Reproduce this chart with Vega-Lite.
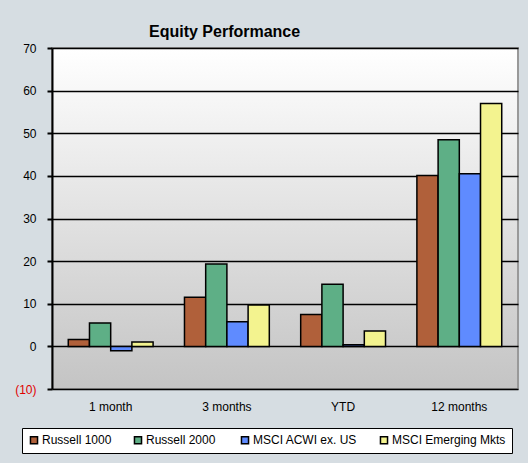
{
  "$schema": "https://vega.github.io/schema/vega-lite/v6.json",
  "width": 466,
  "height": 341,
  "autosize": {"type": "none"},
  "padding": {"left": 52, "top": 48, "right": 10, "bottom": 74},
  "background": "#D6DDE2",
  "title": {"text": "Equity Performance", "anchor": "start", "frame": "group", "dx": 97, "offset": 2, "fontSize": 16, "fontWeight": "bold", "font": "Liberation Sans", "color": "#000000"},
  "data": {"values": [
    {"period": "1 month", "index": "Russell 1000", "value": 1.6},
    {"period": "1 month", "index": "Russell  2000", "value": 5.5},
    {"period": "1 month", "index": "MSCI ACWI ex. US", "value": -1.0},
    {"period": "1 month", "index": "MSCI Emerging Mkts", "value": 1.0},
    {"period": "3 months", "index": "Russell 1000", "value": 11.5},
    {"period": "3 months", "index": "Russell  2000", "value": 19.3},
    {"period": "3 months", "index": "MSCI ACWI ex. US", "value": 5.8},
    {"period": "3 months", "index": "MSCI Emerging Mkts", "value": 9.7},
    {"period": "YTD", "index": "Russell 1000", "value": 7.5},
    {"period": "YTD", "index": "Russell  2000", "value": 14.6},
    {"period": "YTD", "index": "MSCI ACWI ex. US", "value": 0.4},
    {"period": "YTD", "index": "MSCI Emerging Mkts", "value": 3.6},
    {"period": "12 months", "index": "Russell 1000", "value": 40.1},
    {"period": "12 months", "index": "Russell  2000", "value": 48.5},
    {"period": "12 months", "index": "MSCI ACWI ex. US", "value": 40.5},
    {"period": "12 months", "index": "MSCI Emerging Mkts", "value": 57.0}
  ]},
  "mark": {"type": "bar", "stroke": "#000000", "strokeWidth": 1.5, "opacity": 1},
  "encoding": {
    "x": {"field": "period", "type": "nominal", "sort": ["1 month", "3 months", "YTD", "12 months"],
      "scale": {"paddingInner": 0.27, "paddingOuter": 0.14},
      "axis": {"title": null, "labelAngle": 0, "ticks": false, "domain": false, "labelPadding": 12, "labelFontSize": 12, "labelFont": "Liberation Sans", "labelColor": "#000000"}},
    "xOffset": {"field": "index", "sort": ["Russell 1000", "Russell  2000", "MSCI ACWI ex. US", "MSCI Emerging Mkts"]},
    "y": {"field": "value", "type": "quantitative",
      "scale": {"domain": [-10, 70], "nice": false},
      "axis": {"title": null, "values": [-10, 0, 10, 20, 30, 40, 50, 60, 70], "grid": true, "gridColor": "#000000", "gridWidth": 1.5,
        "domainColor": "#000000", "domainWidth": 2, "tickColor": "#000000", "tickWidth": 2, "tickSize": 5, "labelPadding": 11,
        "labelFontSize": 12, "labelFont": "Liberation Sans",
        "labelExpr": "datum.value < 0 ? '(' + abs(datum.value) + ')' : datum.value",
        "labelColor": {"expr": "datum.value < 0 ? '#E00000' : '#000000'"}}},
    "color": {"field": "index", "type": "nominal", "sort": ["Russell 1000", "Russell  2000", "MSCI ACWI ex. US", "MSCI Emerging Mkts"],
      "scale": {"range": ["#B0603A", "#5EAF86", "#5F8BFF", "#F3F38F"]},
      "legend": {"title": null, "orient": "none", "direction": "horizontal", "legendX": -30, "legendY": 380,
        "fillColor": "#FFFFFF", "strokeColor": "#000000", "padding": 6, "symbolType": "square", "symbolSize": 50,
        "symbolStrokeColor": "#000000", "symbolStrokeWidth": 1.5, "labelFontSize": 12, "labelFont": "Liberation Sans", "labelColor": "#000000",
        "columnPadding": 19, "labelOffset": 2, "labelLimit": 200,
        "encode": {"symbols": {"update": {"stroke": {"value": "#000000"}, "strokeWidth": {"value": 1.5}}}}}}
  },
  "config": {
    "view": {"fill": {"gradient": "linear", "x1": 0, "y1": 0, "x2": 0, "y2": 1, "stops": [{"offset": 0, "color": "#FFFFFF"}, {"offset": 1, "color": "#C4C4C4"}]}, "stroke": "#999999", "strokeWidth": 2}
  }
}
